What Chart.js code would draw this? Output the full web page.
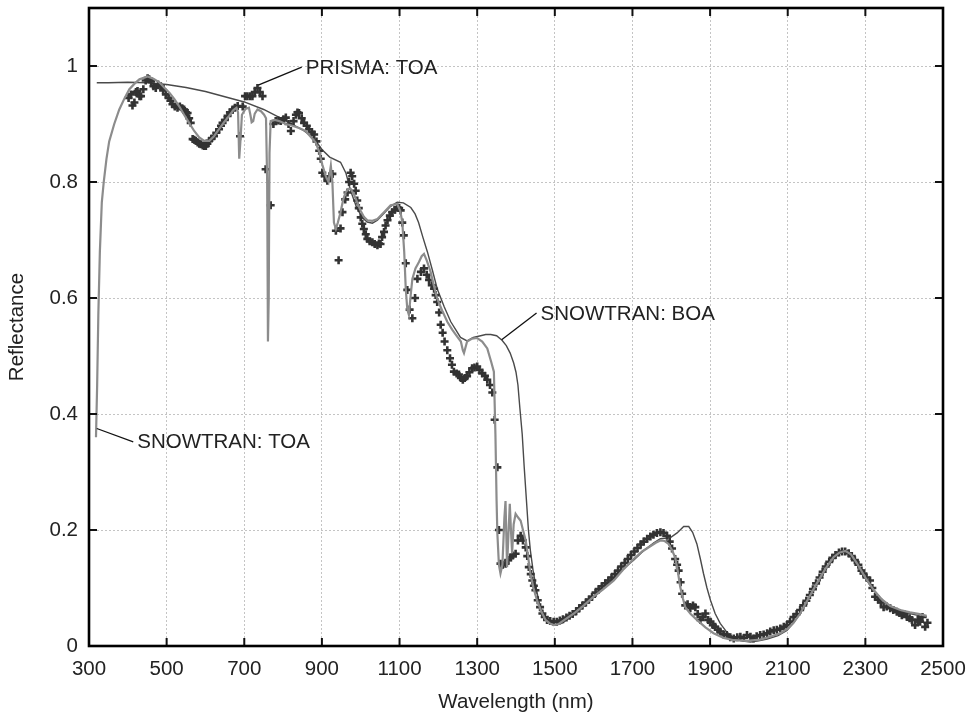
<!DOCTYPE html>
<html>
<head>
<meta charset="utf-8">
<script src="https://cdn.jsdelivr.net/npm/chart.js@4/dist/chart.umd.min.js"></script>
<style>
  html, body { margin: 0; padding: 0; background: #ffffff; }
  #wrap { width: 971px; height: 715px; position: relative; }
</style>
</head>
<body>
<div id="wrap"><canvas id="c" width="971" height="715"></canvas></div>
<script>
// ---------- DATA ----------
const xTickValues = [300, 500, 700, 900, 1100, 1300, 1500, 1700, 1900, 2100, 2300, 2500];
const yTickValues = [0, 0.2, 0.4, 0.6, 0.8, 1];

// SNOWTRAN: TOA (wavelength nm, reflectance)
const snowtranTOA = [
  [318,0.36],[321,0.45],[324,0.57],[328,0.68],[333,0.765],[338,0.80],[345,0.84],[352,0.87],[365,0.90],[378,0.925],
  [392,0.945],[404,0.96],[418,0.97],[430,0.977],[451,0.982],[466,0.978],[481,0.972],[495,0.962],[507,0.954],[520,0.943],
  [532,0.931],[545,0.916],[558,0.902],[571,0.888],[584,0.877],[597,0.871],[610,0.871],[622,0.879],[635,0.891],[648,0.903],
  [661,0.914],[672,0.924],[680,0.928],[684,0.92],[687,0.84],[690,0.87],[694,0.916],[703,0.926],[712,0.928],[716,0.915],
  [719,0.903],[723,0.905],[727,0.918],[734,0.925],[743,0.922],[751,0.916],[756,0.91],[759,0.80],[761,0.525],[763,0.60],
  [765,0.85],[768,0.905],[779,0.907],[790,0.905],[807,0.90],[824,0.897],[841,0.893],[858,0.888],[871,0.878],[884,0.868],
  [893,0.852],[901,0.83],[910,0.81],[917,0.80],[923,0.828],[927,0.80],[931,0.73],[936,0.719],[941,0.73],[948,0.748],
  [955,0.77],[961,0.782],[968,0.788],[974,0.788],[983,0.778],[991,0.765],[1000,0.75],[1008,0.74],[1017,0.734],[1030,0.733],
  [1043,0.736],[1060,0.748],[1077,0.76],[1094,0.762],[1102,0.75],[1107,0.731],[1112,0.68],[1116,0.616],[1120,0.58],[1124,0.571],
  [1128,0.60],[1133,0.633],[1141,0.651],[1150,0.662],[1157,0.672],[1163,0.676],[1170,0.665],[1180,0.645],[1189,0.62],[1197,0.599],
  [1210,0.578],[1223,0.559],[1236,0.545],[1249,0.533],[1258,0.525],[1263,0.51],[1266,0.505],[1270,0.515],[1274,0.525],[1287,0.53],
  [1300,0.531],[1313,0.525],[1326,0.513],[1336,0.49],[1343,0.473],[1347,0.365],[1350,0.25],[1352,0.194],[1356,0.14],[1360,0.125],
  [1365,0.14],[1370,0.22],[1373,0.25],[1377,0.136],[1381,0.2],[1384,0.245],[1387,0.2],[1390,0.16],[1394,0.21],[1399,0.228],
  [1405,0.222],[1412,0.216],[1418,0.2],[1425,0.182],[1431,0.155],[1437,0.125],[1445,0.1],[1454,0.079],[1465,0.06],[1476,0.045],
  [1487,0.039],[1497,0.036],[1510,0.038],[1525,0.045],[1549,0.056],[1575,0.07],[1600,0.085],[1625,0.098],[1652,0.113],[1678,0.133],
  [1703,0.15],[1725,0.163],[1746,0.172],[1760,0.178],[1772,0.182],[1783,0.181],[1793,0.176],[1802,0.165],[1810,0.153],[1817,0.128],
  [1823,0.102],[1830,0.082],[1836,0.067],[1850,0.055],[1866,0.045],[1888,0.032],[1909,0.022],[1935,0.014],[1961,0.010],[1995,0.009],
  [2029,0.011],[2055,0.016],[2081,0.022],[2100,0.03],[2115,0.04],[2132,0.056],[2150,0.078],[2175,0.108],[2197,0.133],[2218,0.153],
  [2233,0.161],[2248,0.164],[2263,0.158],[2278,0.143],[2300,0.118],[2321,0.097],[2343,0.08],[2364,0.069],[2390,0.062],[2415,0.058],
  [2440,0.055],[2458,0.052]
];

// SNOWTRAN: BOA
const snowtranBOA = [
  [320,0.971],[350,0.971],[400,0.972],[450,0.971],[500,0.968],[550,0.963],[600,0.956],[650,0.947],[700,0.938],[750,0.925],
  [800,0.908],[850,0.89],[880,0.875],[900,0.856],[920,0.843],[948,0.834],[962,0.815],[974,0.785],[990,0.755],[1005,0.738],
  [1017,0.731],[1030,0.729],[1043,0.734],[1060,0.746],[1077,0.758],[1094,0.765],[1110,0.764],[1129,0.756],[1140,0.745],[1149,0.73],
  [1160,0.705],[1172,0.679],[1185,0.647],[1197,0.616],[1215,0.585],[1232,0.559],[1245,0.545],[1257,0.532],[1274,0.526],[1290,0.532],
  [1309,0.535],[1322,0.537],[1335,0.537],[1350,0.535],[1364,0.527],[1375,0.518],[1385,0.505],[1394,0.488],[1400,0.472],[1405,0.45],
  [1410,0.41],[1416,0.365],[1421,0.31],[1427,0.25],[1432,0.2],[1437,0.165],[1444,0.13],[1450,0.108],[1456,0.086],[1463,0.067],
  [1471,0.054],[1480,0.045],[1490,0.039],[1502,0.036],[1520,0.04],[1550,0.055],[1592,0.08],[1617,0.094],[1650,0.115],[1680,0.135],
  [1703,0.148],[1730,0.165],[1755,0.178],[1772,0.185],[1798,0.187],[1815,0.195],[1832,0.206],[1845,0.206],[1855,0.196],[1866,0.176],
  [1875,0.15],[1883,0.125],[1892,0.1],[1901,0.079],[1913,0.056],[1926,0.039],[1943,0.024],[1961,0.014],[1980,0.009],[2004,0.007],
  [2025,0.009],[2047,0.012],[2075,0.018],[2098,0.027],[2115,0.04],[2132,0.056],[2150,0.078],[2175,0.106],[2197,0.131],[2218,0.151],
  [2233,0.16],[2248,0.163],[2263,0.156],[2278,0.142],[2300,0.117],[2321,0.096],[2343,0.08],[2364,0.067],[2390,0.06],[2415,0.056],
  [2440,0.052],[2458,0.05]
];

// PRISMA: TOA (measured samples)
const prismaTOA = [
  [402,0.945],[408,0.951],[412,0.932],[417,0.937],[421,0.955],[425,0.957],[430,0.948],[434,0.948],[440,0.96],[446,0.975],
  [451,0.979],[455,0.977],[460,0.974],[466,0.965],[472,0.962],[478,0.968],[485,0.965],[491,0.958],[498,0.951],[505,0.945],
  [510,0.94],[515,0.934],[521,0.93],[528,0.928],[534,0.93],[540,0.927],[545,0.925],[550,0.92],[554,0.919],[558,0.91],
  [562,0.902],[567,0.874],[571,0.873],[575,0.871],[580,0.868],[584,0.866],[588,0.865],[593,0.863],[597,0.862],[601,0.862],
  [605,0.866],[610,0.871],[616,0.875],[622,0.879],[628,0.885],[635,0.891],[640,0.897],[644,0.902],[650,0.907],[657,0.914],
  [663,0.92],[670,0.925],[676,0.928],[683,0.931],[689,0.879],[696,0.93],[702,0.948],[708,0.948],[715,0.948],[721,0.948],
  [727,0.955],[734,0.962],[740,0.955],[747,0.948],[755,0.822],[768,0.76],[775,0.9],[781,0.905],[788,0.906],[794,0.905],
  [801,0.908],[807,0.911],[814,0.9],[820,0.888],[827,0.905],[833,0.916],[837,0.92],[841,0.919],[848,0.91],[854,0.902],
  [861,0.897],[867,0.891],[874,0.886],[880,0.882],[886,0.87],[893,0.854],[897,0.84],[901,0.816],[907,0.81],[914,0.802],
  [920,0.81],[927,0.814],[936,0.716],[943,0.665],[948,0.72],[953,0.748],[960,0.77],[966,0.782],[970,0.8],[974,0.816],
  [978,0.81],[983,0.797],[987,0.785],[991,0.768],[995,0.755],[1000,0.739],[1004,0.728],[1008,0.719],[1013,0.71],[1017,0.702],
  [1023,0.698],[1030,0.696],[1036,0.693],[1043,0.691],[1047,0.694],[1051,0.693],[1055,0.705],[1060,0.714],[1064,0.725],[1069,0.734],
  [1075,0.742],[1081,0.748],[1088,0.752],[1094,0.756],[1099,0.755],[1103,0.751],[1107,0.73],[1111,0.708],[1116,0.66],[1120,0.614],
  [1126,0.58],[1133,0.565],[1140,0.6],[1146,0.633],[1155,0.645],[1163,0.651],[1170,0.64],[1176,0.631],[1183,0.622],[1189,0.616],
  [1193,0.605],[1197,0.593],[1202,0.575],[1206,0.554],[1211,0.54],[1216,0.525],[1223,0.51],[1230,0.496],[1235,0.485],[1240,0.473],
  [1247,0.47],[1253,0.468],[1258,0.462],[1263,0.459],[1268,0.462],[1274,0.465],[1280,0.472],[1287,0.479],[1293,0.48],[1300,0.482],
  [1306,0.476],[1313,0.47],[1320,0.466],[1326,0.459],[1333,0.45],[1339,0.437],[1345,0.39],[1352,0.308],[1356,0.2],[1360,0.142],
  [1366,0.14],[1373,0.142],[1380,0.148],[1386,0.153],[1392,0.156],[1399,0.159],[1405,0.182],[1412,0.19],[1418,0.182],[1425,0.17],
  [1429,0.155],[1433,0.136],[1438,0.124],[1442,0.113],[1446,0.104],[1450,0.096],[1456,0.079],[1462,0.067],[1468,0.056],[1474,0.05],
  [1480,0.045],[1488,0.043],[1497,0.042],[1505,0.042],[1513,0.044],[1521,0.046],[1530,0.049],[1538,0.052],[1546,0.055],[1555,0.06],
  [1563,0.065],[1571,0.07],[1580,0.075],[1588,0.08],[1596,0.085],[1605,0.092],[1613,0.098],[1621,0.103],[1630,0.108],[1638,0.113],
  [1646,0.118],[1655,0.124],[1663,0.13],[1671,0.137],[1680,0.143],[1688,0.15],[1696,0.157],[1705,0.163],[1713,0.169],[1721,0.175],
  [1729,0.18],[1738,0.185],[1746,0.189],[1754,0.192],[1763,0.195],[1772,0.196],[1780,0.195],[1789,0.19],[1796,0.18],[1802,0.168],
  [1810,0.15],[1815,0.14],[1819,0.13],[1824,0.11],[1828,0.09],[1836,0.07],[1842,0.072],[1849,0.065],[1856,0.07],[1862,0.067],
  [1868,0.055],[1875,0.045],[1881,0.05],[1888,0.056],[1895,0.045],[1901,0.042],[1907,0.036],[1913,0.033],[1920,0.028],[1926,0.025],
  [1935,0.02],[1943,0.019],[1952,0.015],[1961,0.013],[1970,0.015],[1978,0.016],[1987,0.014],[1995,0.019],[2004,0.016],[2012,0.013],
  [2020,0.017],[2029,0.019],[2038,0.02],[2047,0.022],[2055,0.025],[2064,0.027],[2072,0.028],[2081,0.03],[2090,0.033],[2098,0.036],
  [2106,0.042],[2115,0.05],[2123,0.055],[2132,0.062],[2140,0.07],[2148,0.078],[2157,0.088],[2165,0.098],[2173,0.108],[2182,0.118],
  [2190,0.128],[2198,0.137],[2207,0.145],[2215,0.152],[2223,0.157],[2232,0.161],[2240,0.163],[2248,0.163],[2257,0.16],[2265,0.155],
  [2273,0.148],[2282,0.14],[2290,0.13],[2295,0.125],[2303,0.118],[2312,0.113],[2318,0.1],[2325,0.085],[2333,0.08],[2340,0.075],
  [2347,0.067],[2355,0.068],[2364,0.065],[2372,0.062],[2381,0.059],[2388,0.057],[2394,0.053],[2400,0.055],[2407,0.05],[2414,0.048],
  [2420,0.045],[2428,0.036],[2435,0.045],[2441,0.042],[2447,0.05],[2454,0.033],[2460,0.04]
];

// Callout labels: text, anchor on the curve (data units), label start (data units)
const calloutTexts = ['PRISMA: TOA', 'SNOWTRAN: BOA', 'SNOWTRAN: TOA'];
const calloutAnchors = [[736, 0.967], [1363, 0.528], [320, 0.375]];
const calloutEnds = [[848, 0.998], [1453, 0.574], [414, 0.352]];

// ---------- CHART ----------
const FONT = "'Liberation Sans', Arial, Helvetica, sans-serif";
const FS = 20.5;
Chart.defaults.font.family = FONT;
Chart.defaults.color = '#222';

const toXY = arr => arr.map(p => ({x: p[0], y: p[1]}));

const framePlugin = {
  id: 'frameTicksCallouts',
  afterDatasetsDraw(chart) {
    const {ctx, chartArea: a, scales: {x, y}} = chart;
    ctx.save();
    // inward tick marks on all four sides
    ctx.strokeStyle = '#111';
    ctx.lineWidth = 2;
    const tl = 8;
    ctx.beginPath();
    xTickValues.forEach(v => {
      const px = x.getPixelForValue(v);
      ctx.moveTo(px, a.bottom); ctx.lineTo(px, a.bottom - tl);
      ctx.moveTo(px, a.top); ctx.lineTo(px, a.top + tl);
    });
    yTickValues.forEach(v => {
      const py = y.getPixelForValue(v);
      ctx.moveTo(a.left, py); ctx.lineTo(a.left + tl, py);
      ctx.moveTo(a.right, py); ctx.lineTo(a.right - tl, py);
    });
    ctx.stroke();
    // frame
    ctx.lineWidth = 2.6;
    ctx.strokeStyle = '#000';
    ctx.strokeRect(a.left, a.top, a.right - a.left, a.bottom - a.top);
    // callouts
    ctx.lineWidth = 1.3;
    ctx.strokeStyle = '#111';
    ctx.fillStyle = '#222';
    ctx.font = FS + 'px ' + FONT;
    ctx.textBaseline = 'middle';
    ctx.textAlign = 'left';
    calloutTexts.forEach((t, i) => {
      const x0 = x.getPixelForValue(calloutAnchors[i][0]);
      const y0 = y.getPixelForValue(calloutAnchors[i][1]);
      const x1 = x.getPixelForValue(calloutEnds[i][0]);
      const y1 = y.getPixelForValue(calloutEnds[i][1]);
      ctx.beginPath(); ctx.moveTo(x0, y0); ctx.lineTo(x1, y1); ctx.stroke();
      ctx.fillText(t, x1 + 4, y1 + 1);
    });
    ctx.restore();
  }
};

new Chart(document.getElementById('c'), {
  type: 'line',
  data: {
    datasets: [
      {
        label: 'SNOWTRAN: TOA',
        data: toXY(snowtranTOA),
        borderColor: '#8c8c8c',
        borderWidth: 2.2,
        pointRadius: 0,
        tension: 0,
        fill: false
      },
      {
        label: 'PRISMA: TOA',
        data: toXY(prismaTOA),
        showLine: false,
        pointStyle: 'cross',
        pointRadius: 4,
        pointBorderWidth: 2.6,
        pointBorderColor: '#333333',
        pointBackgroundColor: '#333333'
      },
      {
        label: 'SNOWTRAN: BOA',
        data: toXY(snowtranBOA),
        borderColor: '#4a4a4a',
        borderWidth: 1.4,
        pointRadius: 0,
        tension: 0,
        fill: false
      }
    ]
  },
  options: {
    responsive: false,
    animation: false,
    devicePixelRatio: 1,
    layout: { padding: { top: 8, right: 28, left: 0, bottom: 0 } },
    plugins: { legend: { display: false }, tooltip: { enabled: false } },
    scales: {
      x: {
        type: 'linear',
        min: 300, max: 2500,
        afterFit: s => { s.height = 69; s.paddingLeft = 0; s.paddingRight = 0; },
        afterBuildTicks: s => { s.ticks = xTickValues.map(v => ({value: v})); },
        ticks: {
          padding: 11, maxRotation: 0, autoSkip: false,
          font: { size: FS }, color: '#222',
          callback: v => String(v)
        },
        grid: { color: '#c4c4c4', lineWidth: 1, drawTicks: false },
        border: { display: false, dash: [2, 2] },
        title: { display: true, text: 'Wavelength (nm)', font: { size: FS }, color: '#222', padding: { top: 0, bottom: 0 } }
      },
      y: {
        type: 'linear',
        min: 0, max: 1.1,
        afterFit: s => { s.width = 89; s.paddingTop = 0; s.paddingBottom = 0; },
        afterBuildTicks: s => { s.ticks = yTickValues.map(v => ({value: v})); },
        ticks: {
          padding: 11, font: { size: FS }, color: '#222',
          callback: v => String(Math.round(v * 10) / 10)
        },
        grid: { color: '#c4c4c4', lineWidth: 1, drawTicks: false },
        border: { display: false, dash: [2, 2] },
        title: { display: true, text: 'Reflectance', font: { size: FS }, color: '#222', padding: { top: 5, bottom: 0 } }
      }
    }
  },
  plugins: [framePlugin]
});
</script>
</body>
</html>
